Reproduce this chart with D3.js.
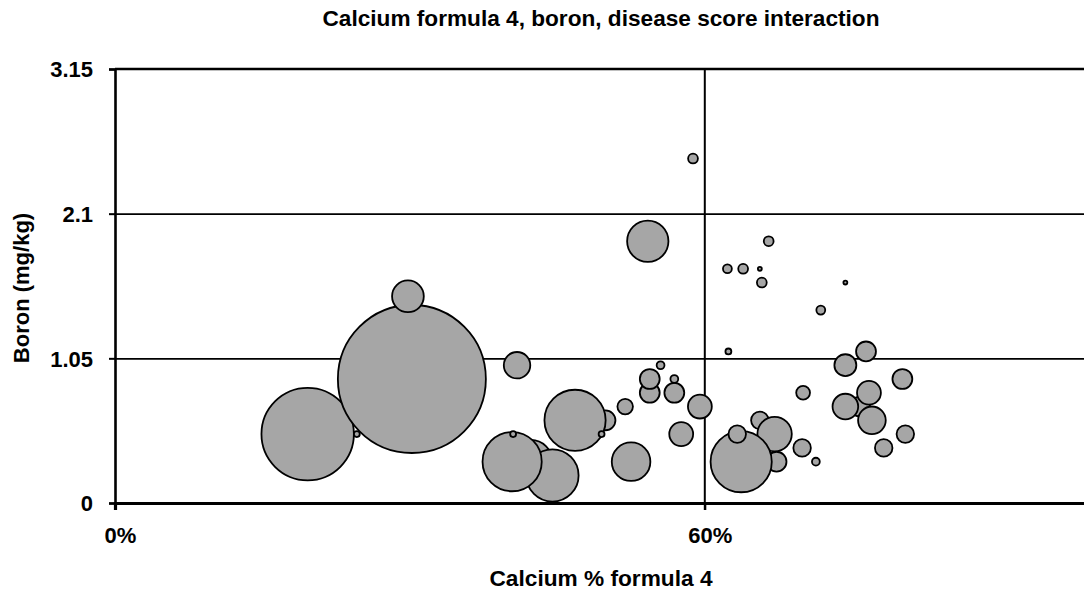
<!DOCTYPE html>
<html>
<head>
<meta charset="utf-8">
<script src="https://cdn.jsdelivr.net/npm/d3@7/dist/d3.min.js"></script>
<style>
  body { margin: 0; background: #fff; }
  svg { display: block; }
  text { font-family: Arial, "Liberation Sans", sans-serif; font-weight: bold; fill: #000; }
</style>
</head>
<body>
<svg id="chart-area" width="1084" height="592"></svg>
<script>
// calcium %, boron (mg/kg) and disease score (bubble size), in drawing order
var calcium = [19.6, 30.2, 24.6, 29.8,
               42.3, 44.5, 40.4, 40.5, 40.9, 49.9, 46.8, 49.5, 51.9, 52.5,
               54.4, 54.4, 55.5, 56.9, 56.9, 57.6, 59.5, 58.8, 54.2,
               66.5, 62.3, 63.9, 65.6, 65.8, 74.3, 71.8, 62.4, 76.4, 74.3, 80.1,
               70.0, 75.8, 76.7, 74.3, 77.0, 80.4, 78.2, 65.6, 67.3, 67.1, 63.7,
               63.3, 69.9, 71.3];
var boron = [0.5, 0.9, 0.5, 1.5,
             0.3, 0.2, 0.3, 0.5, 1.0, 0.6, 0.6, 0.5, 0.7, 0.3,
             0.8, 0.9, 1.0, 0.8, 0.9, 0.5, 0.7, 2.5, 1.9,
             1.9, 1.7, 1.7, 1.7, 1.6, 1.6, 1.4, 1.1, 1.1, 1.0, 0.9,
             0.8, 0.7, 0.8, 0.7, 0.6, 0.5, 0.4, 0.6, 0.3, 0.5, 0.3,
             0.5, 0.4, 0.3];
var score = [39, 100, 0.16, 4.6,
             8.6, 12.5, 16, 0.16, 3.2, 1.8, 17.1, 0.16, 1.1, 6.8,
             1.8, 1.8, 0.28, 1.8, 0.28, 2.6, 2.6, 0.44, 7.8,
             0.44, 0.36, 0.44, 0.07, 0.44, 0.07, 0.36, 0.16, 1.8, 2.2, 1.8,
             0.87, 1.8, 2.6, 3.0, 3.5, 1.4, 1.4, 1.4, 1.8, 5.4, 17.1,
             1.4, 1.4, 0.28];

var xTicks = [0, 60];
var yTicks = [0, 1.05, 2.1, 3.15];

var margin = {left: 115, top: 69};
var plotRight = 1098;
var plotBottom = 503;

var svg = d3.select('#chart-area');

var x = d3.scaleLinear().domain([0, 100]).range([margin.left, plotRight]);
var y = d3.scaleLinear().domain([0, 3.15]).range([plotBottom, margin.top]);
var r = d3.scaleSqrt().domain([0, 100]).range([0, 74]);

var data = calcium.map(function(c, i) {
    return {ca: c, b: boron[i], s: score[i]};
});

// horizontal gridlines
svg.append('g')
   .attr('class', 'grid')
   .attr('transform', 'translate(' + margin.left + ',0)')
   .call(d3.axisLeft(y).tickValues([1.05, 2.1]).tickSize(-(plotRight - margin.left)).tickFormat(''))
   .call(function(g) {
       g.select('.domain').remove();
       g.selectAll('line').attr('stroke', '#000').attr('stroke-width', 1.8);
   });

// top border
svg.append('line')
   .attr('x1', margin.left).attr('x2', plotRight)
   .attr('y1', y(3.15)).attr('y2', y(3.15))
   .attr('stroke', '#000').attr('stroke-width', 2.4);

// vertical gridline at 60%
svg.append('line')
   .attr('x1', x(60)).attr('x2', x(60))
   .attr('y1', margin.top).attr('y2', plotBottom + 7)
   .attr('stroke', '#000').attr('stroke-width', 2);

// bubbles
svg.append('g')
   .selectAll('circle')
   .data(data)
   .enter()
   .append('circle')
   .attr('cx', function(d) { return x(d.ca); })
   .attr('cy', function(d) { return y(d.b); })
   .attr('r', function(d) { return r(d.s); })
   .attr('fill', '#a6a6a6')
   .attr('stroke', '#000')
   .attr('stroke-width', 1.8);

// y axis
var yAxis = d3.axisLeft(y)
              .tickValues(yTicks)
              .tickSize(6)
              .tickPadding(16)
              .tickFormat(function(d) { return d === 0 ? '0' : String(d); });

svg.append('g')
   .attr('class', 'y axis')
   .attr('transform', 'translate(' + margin.left + ',0)')
   .call(yAxis)
   .call(function(g) {
       g.select('.domain').attr('stroke', '#000').attr('stroke-width', 2.6);
       g.selectAll('.tick line').attr('stroke', '#000').attr('stroke-width', 2);
       g.selectAll('.tick text').attr('font-size', 22).attr('dy', '0.35em');
   });

// x axis
var xAxis = d3.axisBottom(x)
              .tickValues(xTicks)
              .tickSize(7)
              .tickPadding(0)
              .tickFormat(function(d) { return d + '%'; });

svg.append('g')
   .attr('class', 'x axis')
   .attr('transform', 'translate(0,' + plotBottom + ')')
   .call(xAxis)
   .call(function(g) {
       g.select('.domain').attr('stroke', '#000').attr('stroke-width', 3.2);
       g.selectAll('.tick line').attr('stroke', '#000').attr('stroke-width', 2);
       g.selectAll('.tick text')
        .attr('font-size', 22)
        .attr('y', 40)
        .attr('dy', 0)
        .attr('dx', 5);
   });

// titles
svg.append('text')
   .attr('x', 601).attr('y', 26)
   .attr('text-anchor', 'middle')
   .attr('font-size', 22)
   .attr('textLength', 557)
   .attr('lengthAdjust', 'spacingAndGlyphs')
   .text('Calcium formula 4, boron, disease score interaction');

svg.append('text')
   .attr('x', 601).attr('y', 586)
   .attr('text-anchor', 'middle')
   .attr('font-size', 22)
   .attr('textLength', 223)
   .attr('lengthAdjust', 'spacingAndGlyphs')
   .text('Calcium % formula 4');

svg.append('text')
   .attr('transform', 'translate(29,288) rotate(-90)')
   .attr('text-anchor', 'middle')
   .attr('font-size', 22)
   .text('Boron (mg/kg)');
</script>
</body>
</html>
